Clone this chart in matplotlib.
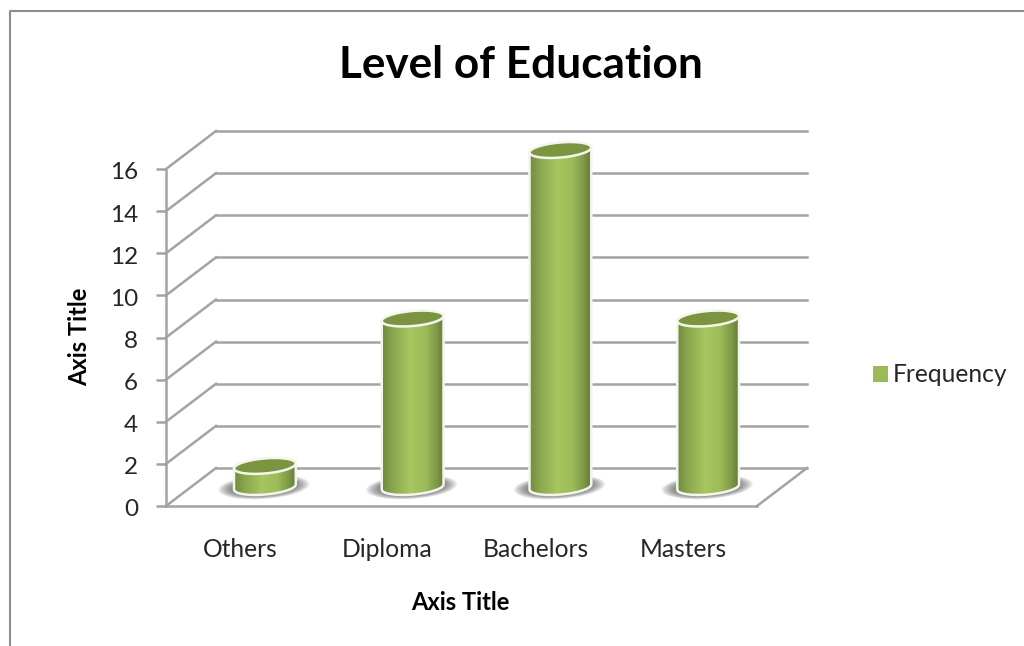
import numpy as np
import matplotlib
matplotlib.use('Agg')
import matplotlib.pyplot as plt
from matplotlib.patches import PathPatch, Patch, Polygon
from matplotlib.path import Path
from matplotlib.colors import LinearSegmentedColormap
from matplotlib.lines import Line2D
from matplotlib.transforms import ScaledTranslation

categories = ['Others', 'Diploma', 'Bachelors', 'Masters']
frequency = [1, 8, 16, 8]
y_ticks = [0, 2, 4, 6, 8, 10, 12, 14, 16]

W, H = 1024, 646
plt.rcParams['font.family'] = ['Lato', 'DejaVu Sans']

fig = plt.figure(figsize=(W / 100, H / 100), dpi=100)
ax = fig.add_axes([166 / W, (H - 506) / H, 591 / W, 337 / H])
ax.set_facecolor('none')

# pixel size of one data unit, used to keep the ellipses round on screen
px_x = 591 / 4
px_y = 337 / 16
depth_x = 50 / px_x
depth_y = 38 / px_y
grid_col = '#a3a3a3'
text_col = '#262626'

# outer chart border
fig.add_artist(Line2D([10 / W, 10 / W, 1], [0, 1 - 11 / H, 1 - 11 / H], color='#8c8c8c', lw=1.5))

# back wall lines and the diagonals running along the side wall
for v in y_ticks:
    ax.plot([depth_x, 4 + depth_x], [v + depth_y, v + depth_y], color=grid_col, lw=1.8, clip_on=False, zorder=1)
    ax.plot([0, depth_x], [v, v + depth_y], color=grid_col, lw=1.8, clip_on=False, zorder=1)
ax.plot([4, 4 + depth_x], [0, depth_y], color=grid_col, lw=1.8, clip_on=False, zorder=1)


def ellipse(cx, cy, a, b, t0=0, t1=2 * np.pi, tilt=5, n=60):
    t = np.linspace(t0, t1, n)
    r = np.radians(tilt)
    ex = a * np.cos(t)
    ey = b * np.sin(t)
    px = ex * np.cos(r) - ey * np.sin(r)
    py = ex * np.sin(r) + ey * np.cos(r)
    return np.column_stack([cx + px / px_x, cy + py / px_y])


cmap = LinearSegmentedColormap.from_list('cyl', [
    (0.0, '#6f8a3e'), (0.18, '#8ba84f'), (0.45, '#a6c65f'), (0.7, '#9dbc59'),
    (0.88, '#7f9a48'), (1.0, '#637c36')])
gradient = np.linspace(0, 1, 128).reshape(1, -1)
half_w = 31
half_h = 7.5

for i, val in enumerate(frequency):
    cx = i + 0.5 + depth_x / 2
    base = depth_y / 2
    top = val + depth_y / 2

    # soft shadow on the floor, stacked translucent ellipses
    for k in np.linspace(1.0, 0.6, 24):
        ax.add_patch(Polygon(ellipse(cx - 1 / px_x, base, 46 * k, 12 * k, tilt=4),
                             fc='#4a4a4a', ec='none', alpha=0.05, clip_on=False, zorder=2))

    bottom_arc = ellipse(cx, base, half_w, half_h, np.pi, 2 * np.pi)
    top_arc = ellipse(cx, top, half_w, half_h, 0, np.pi)
    body = Path(np.vstack([bottom_arc, top_arc, bottom_arc[:1]]), closed=False)
    ax.add_patch(PathPatch(body, fc='none', ec='#f4f6ee', lw=1.8, clip_on=False, zorder=5))
    clip = PathPatch(body, transform=ax.transData, fc='none', ec='none')
    ax.add_patch(clip)
    im = ax.imshow(gradient, cmap=cmap, aspect='auto', zorder=4,
                   extent=[cx - half_w / px_x, cx + half_w / px_x, base - 10 / px_y, top + 10 / px_y])
    # the top of the tallest cylinder sits above the axes box
    im.set_clip_box(fig.bbox)
    im.set_clip_path(clip)
    ax.add_patch(Polygon(ellipse(cx, top, half_w, half_h), fc='#7a9440', ec='#f4f6ee',
                         lw=1.8, clip_on=False, zorder=6))

ax.set_xlim(0, 4)
ax.set_ylim(0, 16)

for side in ['top', 'right']:
    ax.spines[side].set_visible(False)
for side in ['left', 'bottom']:
    ax.spines[side].set_color(grid_col)
    ax.spines[side].set_linewidth(1.8)

ax.set_yticks(y_ticks)
ax.set_yticklabels([str(v) for v in y_ticks], fontsize=17.5, color=text_col)
ax.tick_params(axis='y', length=7, width=1.8, color=grid_col, pad=13)
ax.set_xticks(np.arange(4) + 0.5)
ax.set_xticklabels(categories, fontsize=17.7, color=text_col)
ax.tick_params(axis='x', length=0, pad=23)

# nudge the value labels down a touch so they sit level with their ticks
nudge = ScaledTranslation(0, -2 / 100, fig.dpi_scale_trans)
for lab in ax.get_yticklabels():
    lab.set_transform(lab.get_transform() + nudge)

fig.text(521 / W, 1 - 65 / H, 'Level of Education', fontsize=31.8, fontweight='bold',
         color='black', ha='center', va='center')
fig.text(460 / W, 1 - 602 / H, 'Axis Title', fontsize=17, fontweight='bold',
         color='black', ha='center', va='center')
fig.text(80 / W, 1 - 337 / H, 'Axis Title', fontsize=17, fontweight='bold',
         color='black', ha='center', va='center', rotation=90)

handle = Patch(fc='#9bbb59', ec='none', label='Frequency')
fig.legend(handles=[handle], loc='center left', bbox_to_anchor=(851 / W, 1 - 375 / H), frameon=False,
           fontsize=17.7, labelcolor=text_col, handlelength=0.6, handleheight=0.6, handletextpad=0.2)

fig.savefig('out.png', dpi=100)
